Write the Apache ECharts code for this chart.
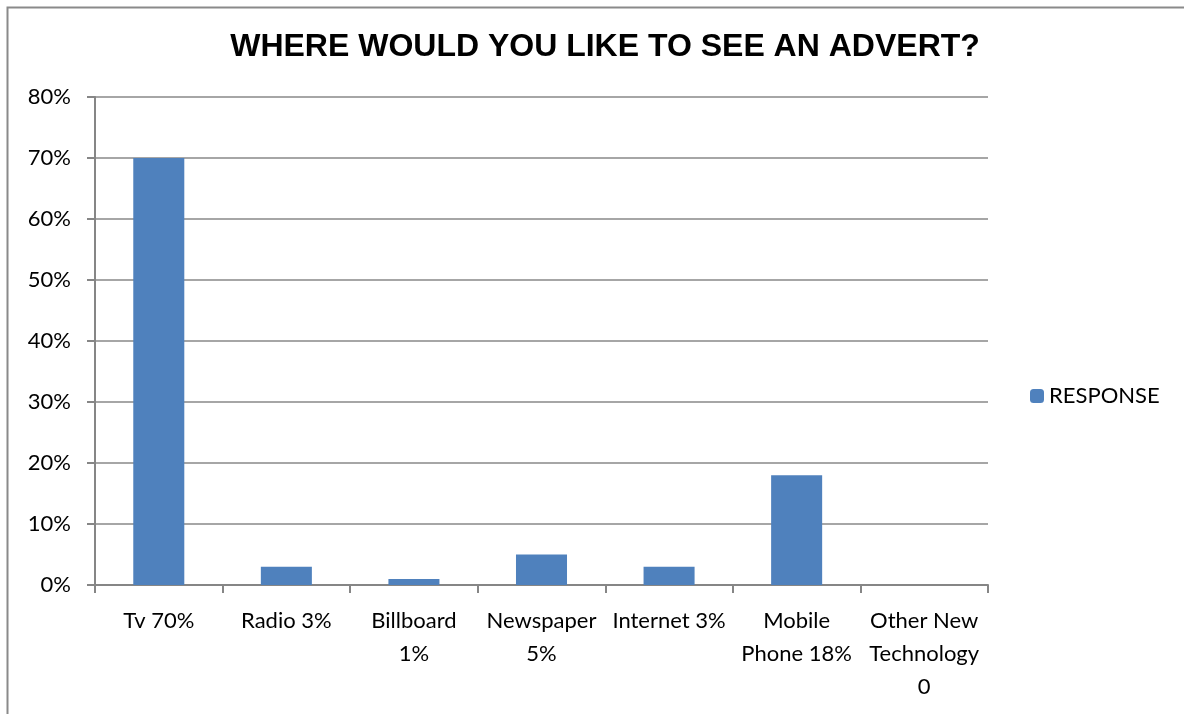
<!DOCTYPE html>
<html><head><meta charset="utf-8">
<script src="https://cdn.jsdelivr.net/npm/echarts@6/dist/echarts.min.js"></script>
<style>html,body{margin:0;padding:0;background:#fff}#c{width:1184px;height:714px}</style>
</head><body><div id="c"></div>
<script>
var categories = ['Tv 70%', 'Radio 3%', 'Billboard\n1%', 'Newspaper\n5%', 'Internet 3%', 'Mobile\nPhone 18%', 'Other New\nTechnology\n0'];
var responseValues = [70, 3, 1, 5, 3, 18, 0];
var seriesName = 'RESPONSE';
var titleText = 'WHERE WOULD YOU LIKE TO SEE AN ADVERT?';

var chart = echarts.init(document.getElementById('c'));
var font = 'Lato, "Open Sans", sans-serif';
chart.setOption({
  animation: false,
  graphic: [{
    type: 'rect', shape: {x: 7.5, y: 7.5, width: 1300, height: 900},
    style: {fill: 'none', stroke: '#8a8a8a', lineWidth: 2}, silent: true
  }],
  title: {
    text: titleText, left: 600, textAlign: 'center', top: 26,
    textStyle: {fontFamily: '"Liberation Sans", Arial, sans-serif', fontWeight: 'bold', fontSize: 32, color: '#000'}
  },
  legend: {
    data: [seriesName], left: 1025, top: 380, itemWidth: 14, itemHeight: 14, itemGap: 8,
    textStyle: {fontFamily: font, fontSize: 22, color: '#000'}
  },
  grid: {left: 95, right: 196, top: 97, bottom: 129, containLabel: false},
  xAxis: {
    type: 'category', data: categories,
    axisLine: {lineStyle: {color: '#868686', width: 2}},
    axisTick: {show: true, length: 8, lineStyle: {color: '#868686', width: 2}},
    axisLabel: {fontFamily: font, fontSize: 22, color: '#000', lineHeight: 33, margin: 19, interval: 0}
  },
  yAxis: {
    type: 'value', min: 0, max: 80, interval: 10,
    axisLine: {show: true, lineStyle: {color: '#868686', width: 2}},
    axisTick: {show: true, length: 8, lineStyle: {color: '#868686', width: 2}},
    splitLine: {lineStyle: {color: '#888', width: 1.5}},
    axisLabel: {formatter: '{value}%', fontFamily: font, fontSize: 22, color: '#000', margin: 24}
  },
  series: [{
    name: seriesName, type: 'bar', data: responseValues, barWidth: '40%',
    itemStyle: {color: '#4F81BD'}
  }]
});
</script></body></html>
